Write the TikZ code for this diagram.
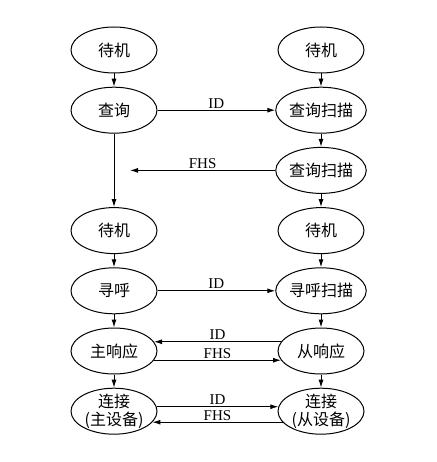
\documentclass[tikz,border=0pt]{standalone}
\usepackage{fontspec}
\setmainfont{Liberation Serif}
\newfontfamily\cjk{Noto Sans CJK SC}
\usetikzlibrary{arrows.meta,automata,shapes.geometric}

\begin{document}
\begin{tikzpicture}[->,>={Latex[length=8pt,width=5pt]},auto,x=1pt,y=1pt,
      node distance=60.2pt,line width=1pt]
    \tikzstyle{every state}=[ellipse,draw,fill=none,inner sep=0pt,
      minimum width=86pt,minimum height=46pt,align=center,
      font=\cjk\fontsize{16}{18}\selectfont]
    \tikzstyle{msg}=[font=\fontsize{15}{17}\selectfont,inner sep=1.5pt]
    \useasboundingbox (0,0) rectangle (436,-462);

    \node[state] (l1) at (114,-50)                {待机};
    \node[state] (r1) [right of=l1,node distance=207pt] {待机};
    \node[state] (l2) [below of=l1] {查询};
    \node[state] (r2) [below of=r1] {查询扫描};
    \node[state] (r3) [below of=r2] {查询扫描};
    \node[state] (r4) [below of=r3] {待机};
    \node[state] (l3) [left of=r4,node distance=207pt] {待机};
    \node[state] (l4) [below of=l3] {寻呼};
    \node[state] (r5) [below of=r4] {寻呼扫描};
    \node[state] (l5) [below of=l4] {主响应};
    \node[state] (r6) [below of=r5] {从响应};
    \node[state,inner ysep=-4pt] (l6) [below of=l5] {连接\\(主设备)};
    \node[state,inner ysep=-4pt] (r7) [below of=r6] {连接\\(从设备)};
    \coordinate (fhs) at ([xshift=16pt]l2.south |- r3);

    \path (l1) edge (l2)
    (l2) edge (l3)
    (l3) edge (l4)
    (l4) edge (l5)
    (l5) edge (l6)
    (r1) edge (r2)
    (r2) edge (r3)
    (r3) edge (r4)
    (r4) edge (r5)
    (r5) edge (r6)
    (r6) edge (r7)
    (l2) edge node[msg] {ID} (r2)
    (r3) edge node[msg,swap] {FHS} (fhs)
    (l4) edge node[msg] {ID} (r5)
    (r6.167) edge node[msg,swap] {ID} (l5.13)
    (l5.-13) edge node[msg] {FHS} (r6.193)
    (l6.6) edge node[msg] {ID} (r7.174)
    (r7.196) edge node[msg,swap] {FHS} (l6.-16);
  \end{tikzpicture}
\end{document}
